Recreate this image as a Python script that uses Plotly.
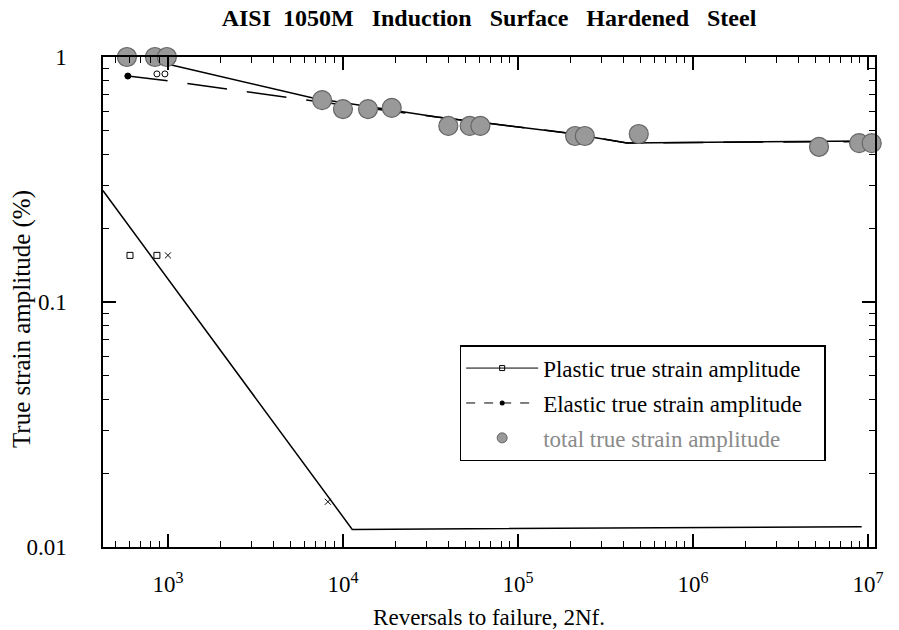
import plotly.graph_objects as go

# ---- data ----
total_x = [583, 843, 986, 7600, 10000, 13900, 19000, 40000, 53000, 61000,
           212000, 241000, 490000, 5.25e6, 8.9e6, 1.05e7]
total_y = [1.0, 1.0, 1.0, 0.667, 0.613, 0.613, 0.62, 0.523, 0.523, 0.523,
           0.476, 0.476, 0.485, 0.43, 0.445, 0.445]

elastic_pts_x = [590, 865, 961]
elastic_pts_y = [0.836, 0.853, 0.853]

plastic_pts_x = [607, 865, 1000, 8200]
plastic_pts_y = [0.155, 0.155, 0.155, 0.0153]

plastic_fit_x = [425, 11300, 9.2e6]
plastic_fit_y = [0.285, 0.0118, 0.0121]

elastic_fit_x = [590, 1000, 5530, 34400, 191000, 420000, 1.0e7]
elastic_fit_y = [0.836, 0.80, 0.674, 0.569, 0.49, 0.446, 0.452]

total_fit_x = [740, 936, 6740, 34400, 191000, 420000, 1.0e7]
total_fit_y = [1.0, 0.945, 0.68, 0.569, 0.49, 0.446, 0.454]

x_tickvals = [1e3, 1e4, 1e5, 1e6, 1e7]
x_ticktext = ["10<sup>3</sup>", "10<sup>4</sup>", "10<sup>5</sup>", "10<sup>6</sup>", "10<sup>7</sup>"]
y_tickvals = [0.01, 0.1, 1]
y_ticktext = ["0.01", "0.1", "1"]

# minor tick positions (2..9 within each decade)
x_minor = [k * 10 ** e for e in range(2, 7) for k in range(2, 10)]
y_minor = [k * 10 ** e for e in (-2, -1) for k in range(2, 10)]

SERIF = "Liberation Serif"
PAD = "\u00a0\u00a0\u00a0"

fig = go.Figure()

# fit lines
fig.add_trace(go.Scatter(x=plastic_fit_x, y=plastic_fit_y, mode="lines",
                         line=dict(color="black", width=1.5), showlegend=False))
fig.add_trace(go.Scatter(x=elastic_fit_x, y=elastic_fit_y, mode="lines",
                         line=dict(color="black", width=1.5, dash="40px,20px"), showlegend=False))
fig.add_trace(go.Scatter(x=total_fit_x, y=total_fit_y, mode="lines",
                         line=dict(color="black", width=1.5), showlegend=False))

# data points
fig.add_trace(go.Scatter(x=total_x, y=total_y, mode="markers", showlegend=False, cliponaxis=False,
                         marker=dict(symbol="circle", size=19, color="#999999",
                                     line=dict(color="#666666", width=1.2))))
fig.add_trace(go.Scatter(x=elastic_pts_x, y=elastic_pts_y, mode="markers", showlegend=False,
                         marker=dict(symbol=["circle", "circle-open", "circle-open"], size=6,
                                     color="black", line=dict(color="black", width=1))))
fig.add_trace(go.Scatter(x=plastic_pts_x, y=plastic_pts_y, mode="markers", showlegend=False,
                         marker=dict(symbol=["square-open", "square-open", "x-thin-open", "x-thin-open"],
                                     size=6, color="black", line=dict(color="black", width=1))))

# legend entries
fig.add_trace(go.Scatter(x=[None], y=[None], mode="lines+markers",
                         name="Plastic true strain amplitude" + PAD,
                         legendgroup="a",
                         line=dict(color="black", width=1),
                         marker=dict(symbol="square-open", size=5, color="black")))
fig.add_trace(go.Scatter(x=[None], y=[None], mode="lines+markers",
                         name="Elastic true strain amplitude" + PAD,
                         legendgroup="b",
                         line=dict(color="black", width=1, dash="dash"),
                         marker=dict(symbol="circle", size=5, color="black")))
fig.add_trace(go.Scatter(x=[None], y=[None], mode="markers",
                         name="<span style='color:#8a8a8a'>total true strain amplitude</span>",
                         legendgroup="c",
                         marker=dict(symbol="circle", size=10, color="#999999",
                                     line=dict(color="#666666", width=1))))

axis_common = dict(showline=True, linecolor="black", linewidth=1.5, mirror="ticks",
                   ticks="inside", tickcolor="black", tickwidth=1.5, ticklen=13,
                   showgrid=False, zeroline=False, automargin=False,
                   tickfont=dict(family=SERIF, size=23, color="black"))

fig.update_xaxes(type="log", range=[2.629, 7.04], tickvals=x_tickvals, ticktext=x_ticktext,
                 ticklabelstandoff=16,
                 minor=dict(tickvals=x_minor, ticks="inside", ticklen=6, tickcolor="black",
                            tickwidth=1, showgrid=False),
                 title=dict(text="Reversals to failure, 2Nf.", font=dict(family=SERIF, size=23, color="black"),
                            standoff=13),
                 **axis_common)
fig.update_yaxes(type="log", range=[-2, 0], tickvals=y_tickvals, ticktext=y_ticktext,
                 ticklabelstandoff=30,
                 minor=dict(tickvals=y_minor, ticks="inside", ticklen=6, tickcolor="black",
                            tickwidth=1, showgrid=False),
                 **axis_common)

fig.update_layout(
    width=899, height=630,
    margin=dict(l=103, r=24, t=57, b=83, autoexpand=False),
    paper_bgcolor="white", plot_bgcolor="white",
    title=dict(text="<b>AISI  1050M   Induction   Surface   Hardened   Steel</b>",
               font=dict(family=SERIF, size=24, color="black"),
               x=0.5, xref="paper", xanchor="center", y=0.972, yanchor="middle"),
    legend=dict(x=0.462, y=0.412, xanchor="left", yanchor="top",
                bgcolor="white", bordercolor="black", borderwidth=1.5,
                font=dict(family=SERIF, size=23, color="black"),
                itemwidth=72, tracegroupgap=2, traceorder="grouped"),
    showlegend=True,
    annotations=[dict(text="True strain amplitude (%)", xref="paper", yref="paper",
                      x=-0.105, y=0.465, xanchor="center", yanchor="middle", textangle=-90,
                      showarrow=False, font=dict(family=SERIF, size=25, color="black"))],
)

fig.write_html("out.html")
